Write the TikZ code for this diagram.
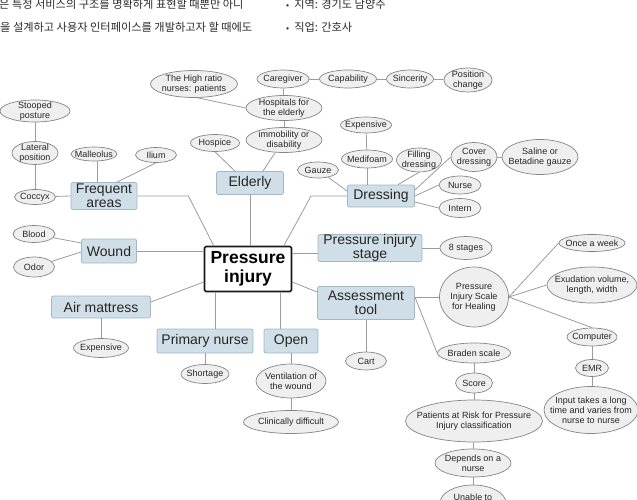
\documentclass[tikz,border=0pt]{standalone}
\usepackage{fontspec}
\setmainfont{Liberation Sans}
\newfontfamily\kofont{Noto Sans CJK KR}
\usetikzlibrary{shapes.geometric,calc}
\definecolor{boxfill}{HTML}{D0DEE7}
\definecolor{boxborder}{HTML}{A3B8C6}
\definecolor{ellfill}{HTML}{EFEFEF}
\definecolor{ellborder}{HTML}{858585}
\definecolor{linkcol}{HTML}{9C9C9C}
\definecolor{kotext}{HTML}{2A2A2A}
\newcommand\ellnode[5]{\node[ell,minimum width=#3,minimum height=#4,label={[lbl]center:{#5}}] (#1) at (#2) {};}
\newcommand\boxnode[5]{\node[bx,minimum width=#3,minimum height=#4] (#1) at (#2) {#5};}
\tikzset{
  ell/.style={ellipse,draw=ellborder,fill=ellfill,line width=0.7pt,inner sep=0pt},
  lbl/.style={align=center,inner sep=0pt,font=\fontsize{9}{10}\selectfont,text=black!85},
  bx/.style={rectangle,rounded corners=2pt,draw=boxborder,fill=boxfill,line width=0.8pt,inner sep=0pt,align=center,font=\fontsize{14}{13.5}\selectfont,text=black!85},
  central/.style={rectangle,rounded corners=1.5pt,draw=black!90,fill=white,line width=1.6pt,inner sep=0pt,align=center,font=\bfseries\fontsize{17.5}{18.5}\selectfont},
  link/.style={draw=linkcol,line width=0.8pt},
  kor/.style={anchor=base west,inner sep=0pt,font=\kofont\fontsize{11.2}{13}\selectfont,text=kotext}
}
\begin{document}
\begin{tikzpicture}[x=1pt,y=-1pt]
\useasboundingbox (0,0) rectangle (637,500);
\clip (0,0) rectangle (637,500);
% Korean text
\node[kor] (k1) at (-1,9) {은 특정 서비스의 구조를 명확하게 표현할 때뿐만 아니};
\node[kor] (k2) at (0,32) {을 설계하고 사용자 인터페이스를 개발하고자 할 때에도};
\node[kor] (k3) at (286,9) {{\fontsize{9}{10}\selectfont•}\hspace{5pt}지역: 경기도 남양주};
\node[kor] (k4) at (286,32) {{\fontsize{9}{10}\selectfont•}\hspace{5pt}직업: 간호사};
% central
\node[central,minimum width=87,minimum height=45] (pi) at (248,269) {Pressure\\injury};
% boxes
\boxnode{fa}{104,196}{66}{27}{Frequent\\areas}
\boxnode{el}{250,183}{67}{23}{Elderly}
\boxnode{dr}{381,196}{67}{22}{Dressing}
\boxnode{wo}{109,251}{55}{24}{Wound}
\boxnode{am}{101,307}{99}{22}{Air mattress}
\boxnode{pn}{205,341}{96}{24}{Primary nurse}
\boxnode{op}{291,341}{54}{24}{Open}
\boxnode{st}{370,248}{104}{27}{Pressure injury\\stage}
\boxnode{at}{366,303}{97}{33}{Assessment\\tool}
% ellipses
\ellnode{sp}{35,111}{70}{22}{Stooped\\posture}
\ellnode{lp}{35,153}{46}{23}{Lateral\\position}
\ellnode{cx}{35,197}{41}{15}{Coccyx}
\ellnode{ma}{94,154}{46}{14}{Malleolus}
\ellnode{il}{156,155}{41}{15}{Ilium}
\ellnode{hr}{194,84}{87}{27}{The High ratio\\nurses: patients}
\ellnode{cg}{283,79}{52}{18}{Caregiver}
\ellnode{cp}{348,79}{57}{18}{Capability}
\ellnode{sn}{410,79}{47}{18}{Sincerity}
\ellnode{pc}{468,80}{48}{24}{Position\\change}
\ellnode{he}{284,108}{76}{25}{Hospitals for\\the elderly}
\ellnode{im}{284,140}{76}{25}{immobility or\\disability}
\ellnode{ho}{215,143}{49}{17}{Hospice}
\ellnode{ga}{318,170}{41}{16}{Gauze}
\ellnode{exa}{366,125}{51}{16}{Expensive}
\ellnode{mf}{367,159}{51}{18}{Medifoam}
\ellnode{fd}{419,160}{45}{24}{Filling\\dressing}
\ellnode{cd}{474,157}{46}{29}{Cover\\dressing}
\ellnode{sb}{540,157}{76}{35}{Saline or\\Betadine gauze}
\ellnode{nu}{460,185}{42}{18}{Nurse}
\ellnode{in}{460,208}{42}{19}{Intern}
\ellnode{bl}{34,234}{42}{17}{Blood}
\ellnode{od}{34,267}{41}{20}{Odor}
\ellnode{exb}{101,348}{55}{19}{Expensive}
\ellnode{sh}{205,374}{48}{19}{Shortage}
\ellnode{ve}{291,381}{70}{34}{Ventilation of\\the wound}
\ellnode{cl}{291,422}{95}{23}{Clinically difficult}
\ellnode{es}{466,248}{52}{23}{8 stages}
\ellnode{ps}{474,297}{69}{60}{Pressure\\Injury Scale\\for Healing}
\ellnode{ow}{592,243}{66}{17}{Once a week}
\ellnode{xv}{592,285}{90}{36}{Exudation volume,\\length, width}
\ellnode{co}{592,337}{50}{18}{Computer}
\ellnode{em}{592,368}{33}{17}{EMR}
\ellnode{ip}{591,410}{94}{47}{Input takes a long\\time and varies from\\nurse to nurse}
\ellnode{ca}{366,361}{41}{18}{Cart}
\ellnode{bs}{474,353}{73}{20}{Braden scale}
\ellnode{sc}{474,383}{37}{20}{Score}
\ellnode{pr}{474,421}{137}{42}{Patients at Risk for Pressure\\Injury classification}
\ellnode{dn}{473,463}{76}{28}{Depends on a\\nurse}
\ellnode{un}{473,503}{66}{36}{Unable to\\\phantom{Xg}}
% links from central
\draw[link] (fa.east) -- ++(51,0) -- ([xshift=10pt]pi.north west);
\draw[link] (el.south) -- (el.south |- pi.north);
\draw[link] (dr.west) -- ++(-36,0) -- ([xshift=-8.5pt]pi.north east);
\draw[link] (wo.east) -- (wo.east -| pi.west);
\draw[link] ([yshift=5pt]am.east) -- ([yshift=-13pt]pi.west);
\draw[link] ([xshift=10pt]pn.north) -- ([xshift=10pt]pn.north |- pi.south);
\draw[link] ([xshift=-11pt]op.north) -- ([xshift=-11pt]op.north |- pi.south);
\draw[link] ([yshift=16pt]pi.east) -- ([yshift=16pt]pi.east -| st.west);
\draw[link] ([yshift=-13pt]pi.east) -- ([yshift=11pt]at.west);
% frequent areas
\draw[link] (cx) -- (fa.west);
\draw[link] (cx) -- (lp);
\draw[link] (lp) -- (sp);
\draw[link] ([xshift=3pt]ma.south) -- ([xshift=3pt]ma.south |- fa.north);
\draw[link] (il.south) -- ([xshift=13pt]fa.north);
% elderly
\draw[link] (ho.south) -- ([xshift=-15pt]el.north);
\draw[link] ([xshift=-9pt]im.south) -- ([xshift=13pt]el.north);
\draw[link] (im) -- (he);
\draw[link] (he) -- (cg);
\draw[link] (hr.285) -- (he.west);
\draw[link] (cg) -- (cp);
\draw[link] (cp) -- (sn);
\draw[link] (sn) -- (pc);
% dressing
\draw[link] (ga) -- ([yshift=5pt]dr.west);
\draw[link] (mf.south) -- (mf.south |- dr.north);
\draw[link] (mf) -- (exa);
\draw[link] (fd.south) -- ([xshift=17pt]dr.north);
\draw[link] (cd.west) -- ([yshift=6pt]dr.east);
\draw[link] (cd) -- (sb);
\draw[link] (nu.west) -- (dr.east);
\draw[link] (in.west) -- ([yshift=-6pt]dr.east);
% wound
\draw[link] (bl) -- ([yshift=8pt]wo.west);
\draw[link] (od) -- ([yshift=-1pt]wo.west);
% others
\draw[link] (am.south) -- (exb.north);
\draw[link] (pn.south) -- (sh.north);
\draw[link] (op.south) -- (ve.north);
\draw[link] (ve) -- (cl);
\draw[link] (st.east) -- (es.west);
\draw[link] ([yshift=6pt]at.east) -- (ps.west);
\draw[link] ([yshift=6pt]at.east) -- (bs.west);
\draw[link] (at.south) -- (ca.north);
\draw[link] (ps.east) -- (ow.west);
\draw[link] (ps.east) -- (xv.west);
\draw[link] (ps.east) -- (co.north);
\draw[link] (co) -- (em);
\draw[link] (em.south) -- (em.south |- ip.north);
\draw[link] (bs) -- (sc);
\draw[link] (sc) -- (pr);
\draw[link] (pr) -- (dn);
\draw[link] (dn) -- (un);
\end{tikzpicture}
\end{document}
